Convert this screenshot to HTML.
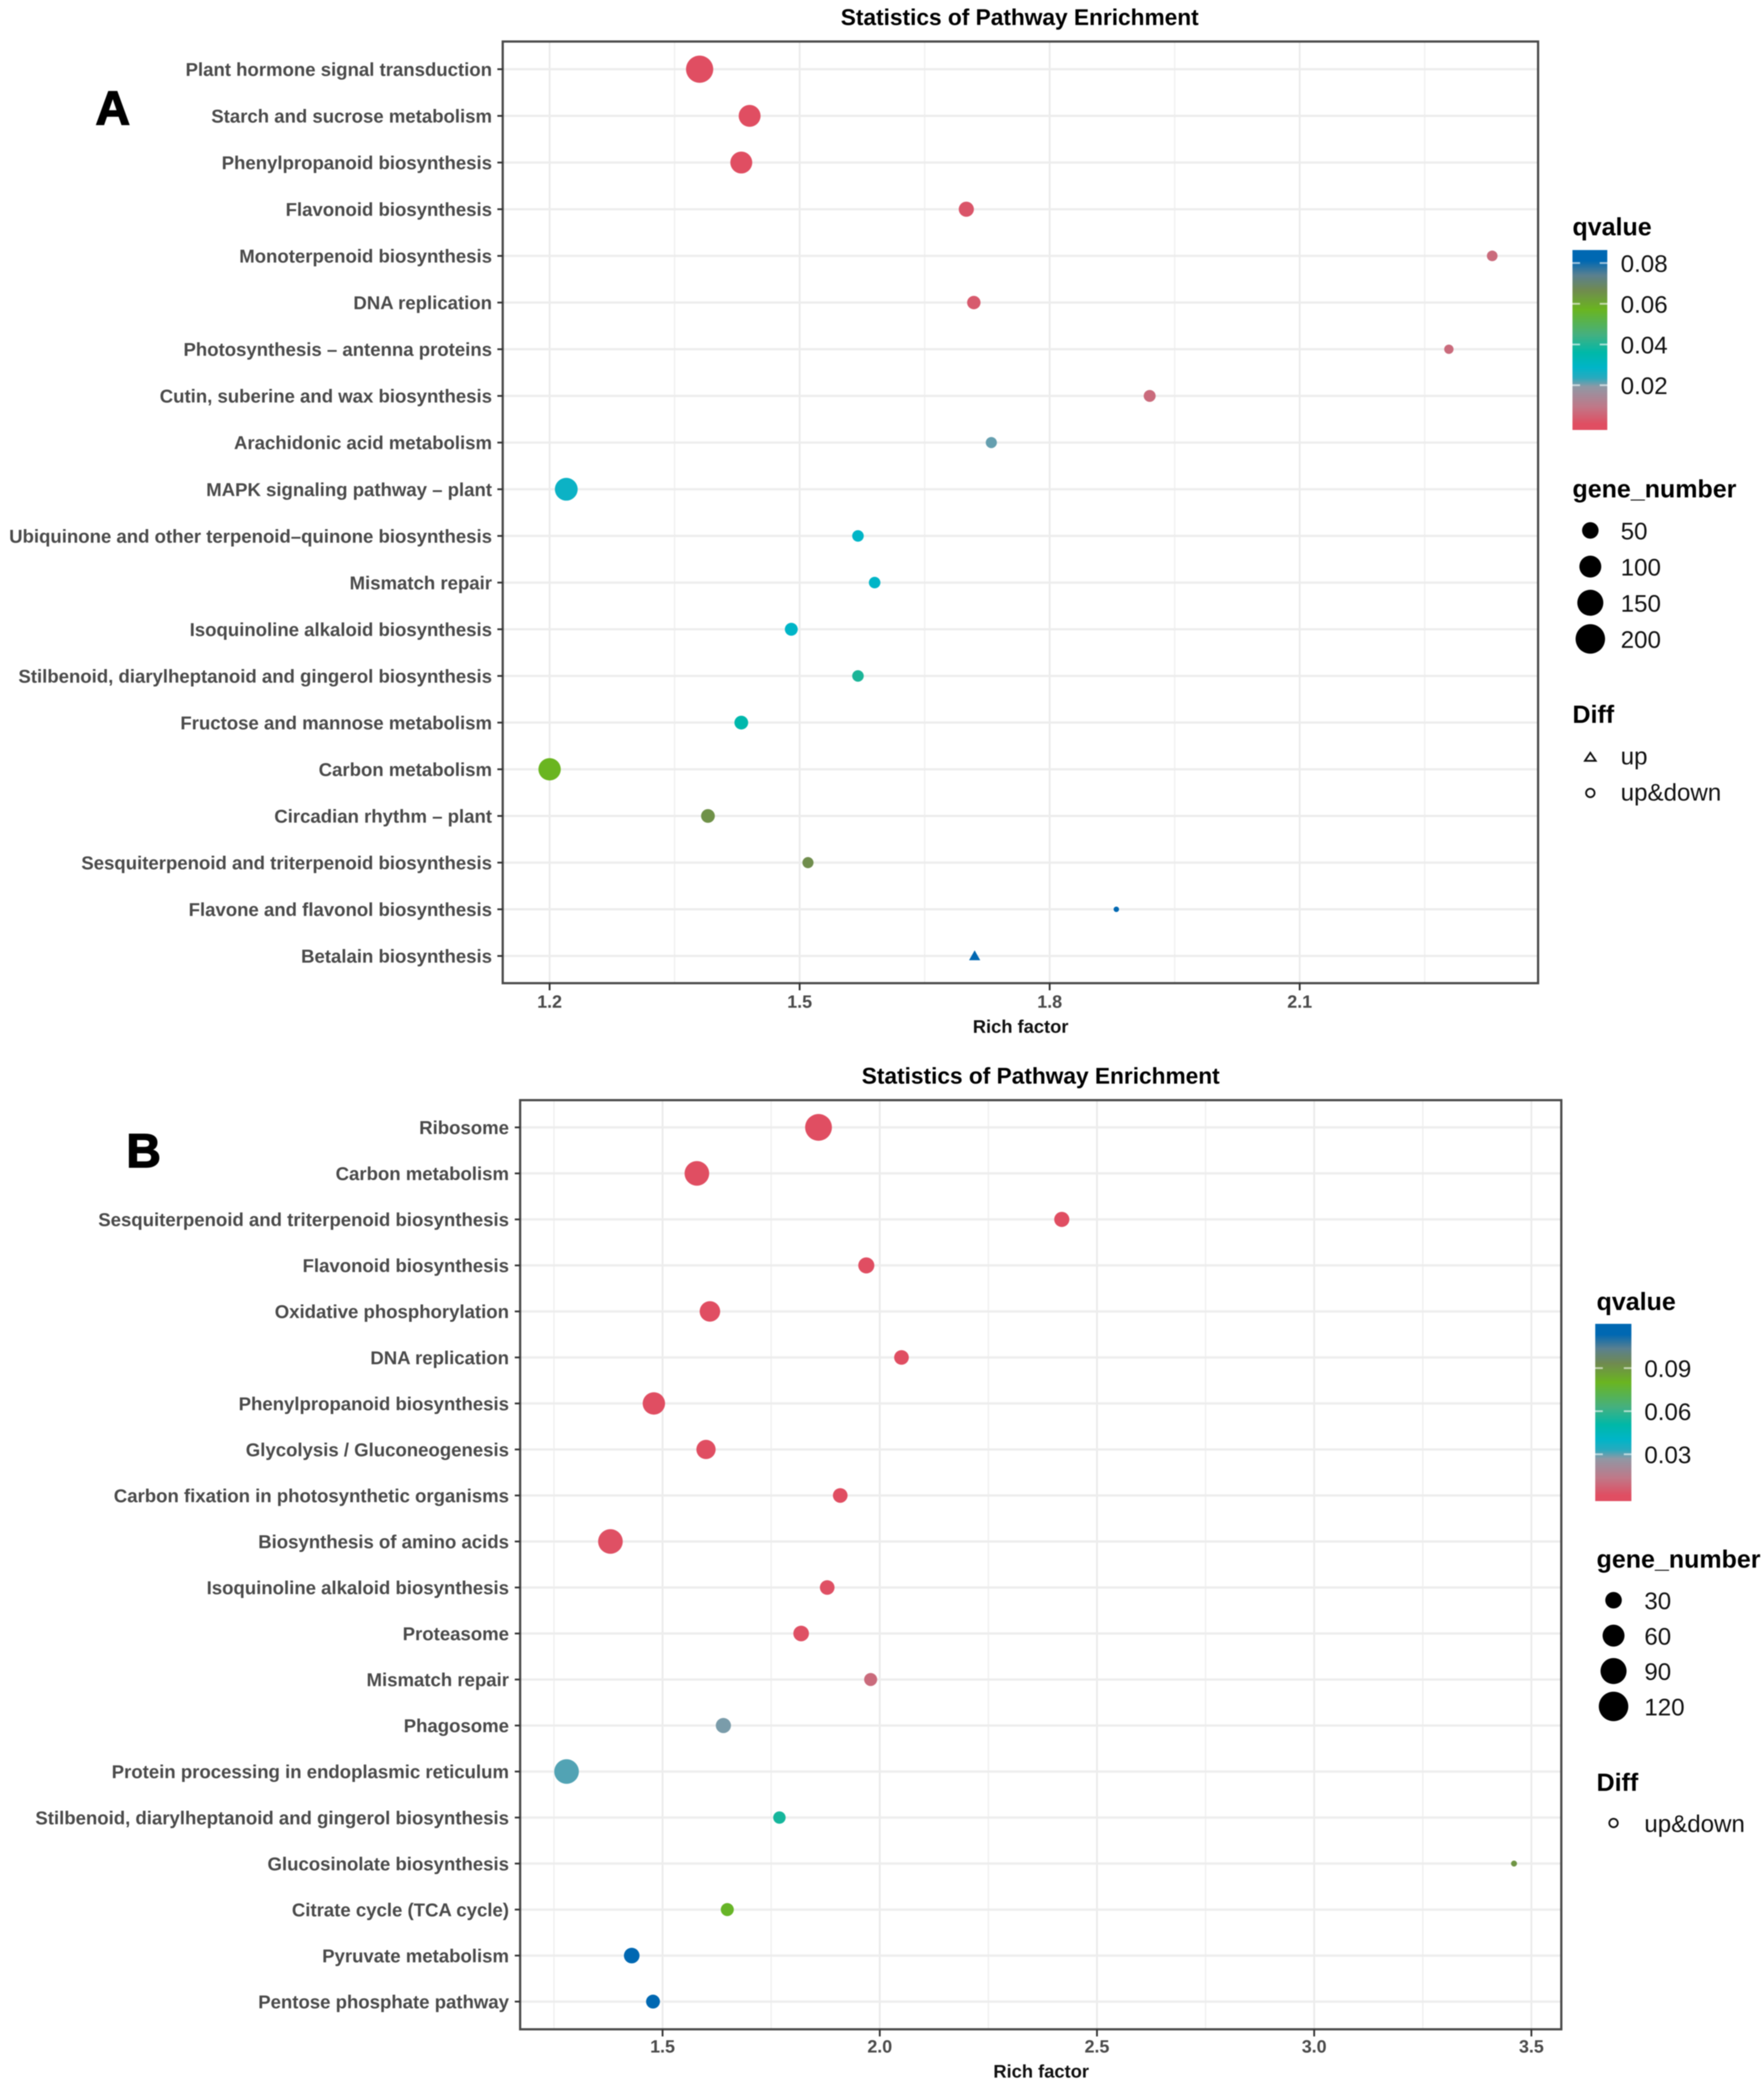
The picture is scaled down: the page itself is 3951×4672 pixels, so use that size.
<!DOCTYPE html>
<html lang="en">
<head>
<meta charset="utf-8">
<title>Statistics of Pathway Enrichment</title>
<style>
html,body{margin:0;padding:0;background:#fff;}
svg{display:block;filter:blur(1px);}
text{font-family:"Liberation Sans",Arial,sans-serif;}
</style>
</head>
<body>
<svg id="figure" xmlns="http://www.w3.org/2000/svg" width="3951" height="4672" viewBox="0 0 3951 4672">
<rect x="0" y="0" width="3951" height="4672" fill="#ffffff"/>
<defs id="defs"></defs>
</svg>
<script>
// ---------- Panel A data ----------
const categoriesA = ["Plant hormone signal transduction","Starch and sucrose metabolism","Phenylpropanoid biosynthesis","Flavonoid biosynthesis","Monoterpenoid biosynthesis","DNA replication","Photosynthesis \u2013 antenna proteins","Cutin, suberine and wax biosynthesis","Arachidonic acid metabolism","MAPK signaling pathway \u2013 plant","Ubiquinone and other terpenoid\u2013quinone biosynthesis","Mismatch repair","Isoquinoline alkaloid biosynthesis","Stilbenoid, diarylheptanoid and gingerol biosynthesis","Fructose and mannose metabolism","Carbon metabolism","Circadian rhythm \u2013 plant","Sesquiterpenoid and triterpenoid biosynthesis","Flavone and flavonol biosynthesis","Betalain biosynthesis"];
const richFactorA = [1.380,1.440,1.430,1.700,2.331,1.709,2.279,1.920,1.730,1.220,1.570,1.590,1.490,1.570,1.430,1.200,1.390,1.510,1.880,1.710];
const geneNumberA = [167,100,100,40,15,29,10,21,17,110,19,19,26,19,31,105,31,17,1,13];
const qvalueA = [0.0005,0.0005,0.0005,0.0024,0.0068,0.0033,0.0068,0.0068,0.021,0.0272,0.029,0.029,0.029,0.0395,0.035,0.0572,0.0652,0.066,0.082,0.0838];
const diffA = ["both","both","both","both","both","both","both","both","both","both","both","both","both","both","both","both","both","both","both","up"];
const xMajorTicksA = [1.2,1.5,1.8,2.1];
const xMinorTicksA = [1.35,1.65,1.95,2.25];
const qTicksA = [0.02,0.04,0.06,0.08];
const sizeLegendA = [50,100,150,200];

// ---------- Panel B data ----------
const categoriesB = ["Ribosome","Carbon metabolism","Sesquiterpenoid and triterpenoid biosynthesis","Flavonoid biosynthesis","Oxidative phosphorylation","DNA replication","Phenylpropanoid biosynthesis","Glycolysis / Gluconeogenesis","Carbon fixation in photosynthetic organisms","Biosynthesis of amino acids","Isoquinoline alkaloid biosynthesis","Proteasome","Mismatch repair","Phagosome","Protein processing in endoplasmic reticulum","Stilbenoid, diarylheptanoid and gingerol biosynthesis","Glucosinolate biosynthesis","Citrate cycle (TCA cycle)","Pyruvate metabolism","Pentose phosphate pathway"];
const richFactorB = [1.859,1.579,2.419,1.969,1.609,2.050,1.480,1.600,1.909,1.380,1.879,1.819,1.979,1.640,1.279,1.769,3.460,1.649,1.429,1.478];
const geneNumberB = [96,79,24,28,51,22,63,44,22,79,22,26,16,24,79,14,1,16,26,19];
const qvalueB = [0.001,0.001,0.001,0.001,0.001,0.001,0.001,0.001,0.001,0.002,0.002,0.002,0.0097,0.0283,0.0307,0.0542,0.09,0.0788,0.1171,0.1171];
const diffB = categoriesB.map(function(){return "both";});
const xMajorTicksB = [1.5,2.0,2.5,3.0,3.5];
const xMinorTicksB = [1.25,1.75,2.25,2.75,3.25];
const qTicksB = [0.03,0.06,0.09];
const sizeLegendB = [30,60,90,120];

// ---------- Shared colour ramp ----------
const rampPositions = [0,0.033,0.13,0.24,0.29,0.347,0.43,0.53,0.67,0.777,0.86,0.94,1];
const rampColors = [[224,78,98],[224,78,98],[192,120,136],[143,152,165],[40,170,190],[0,181,200],[0,184,168],[69,176,128],[106,181,32],[112,138,80],[90,128,144],[0,104,178],[0,104,178]];

const svgNS = "http://www.w3.org/2000/svg";
const root = document.getElementById("figure");
function make(tag, attrs, parent, txt){
  const e = document.createElementNS(svgNS, tag);
  for (const k in attrs) e.setAttribute(k, attrs[k]);
  if (txt !== undefined) e.textContent = txt;
  (parent || root).appendChild(e);
  return e;
}
function rampColor(t){
  t = Math.max(0, Math.min(1, t));
  let i = 0;
  while (i < rampPositions.length - 2 && t > rampPositions[i + 1]) i++;
  const f = (t - rampPositions[i]) / (rampPositions[i + 1] - rampPositions[i]);
  const a = rampColors[i], b = rampColors[i + 1];
  return "rgb(" + [0,1,2].map(function(c){return Math.round(a[c] + (b[c] - a[c]) * f);}).join(",") + ")";
}

function drawPanel(p){
  const xScale = function(v){ return p.x0 + (v - p.v0) * p.pxPerUnit; };
  const yScale = function(i){ return p.y0 + i * p.rowStep; };
  const sizeScale = function(n){ return p.sizeC + p.sizeK * Math.sqrt(n); };
  const qNorm = function(q){ return (q - p.qMin) / (p.qMax - p.qMin); };
  const qColor = function(q){ return rampColor(qNorm(q)); };
  const qY = function(q){ return p.barBottom - qNorm(q) * (p.barBottom - p.barTop); };

  const panel = make("g", {});
  
  

  const letter = make("text", {x:p.letterX, y:p.letterY, "font-size":107, "font-weight":"bold", fill:"#000", stroke:"#000", "stroke-width":3}, panel, p.id);
  
  

  const title = make("text", {x:p.titleX, y:p.titleY, "font-size":50.8, "font-weight":"bold", fill:"#000", "text-anchor":"middle"}, panel, "Statistics of Pathway Enrichment");
  
  

  const grid = make("g", {}, panel);
  
  
  p.minor.forEach(function(v){
    make("line", {x1:xScale(v), x2:xScale(v), y1:p.top, y2:p.bottom, stroke:"#f0f0f0", "stroke-width":3}, grid);
  });
  p.major.forEach(function(v){
    make("line", {x1:xScale(v), x2:xScale(v), y1:p.top, y2:p.bottom, stroke:"#ebebeb", "stroke-width":4}, grid);
  });
  p.categories.forEach(function(c, i){
    make("line", {x1:p.left, x2:p.right, y1:yScale(i), y2:yScale(i), stroke:"#ededed", "stroke-width":5}, grid);
  });

  const border = make("rect", {x:p.left, y:p.top, width:p.right - p.left, height:p.bottom - p.top, fill:"none", stroke:"#4a4a4a", "stroke-width":5}, panel);
  
  

  const yAxis = make("g", {}, panel);
  
  
  p.categories.forEach(function(c, i){
    make("line", {x1:p.left - 12, x2:p.left, y1:yScale(i), y2:yScale(i), stroke:"#333", "stroke-width":4}, yAxis);
    const label = make("text", {x:p.labelEnd, y:yScale(i) + 15, "font-size":41.6, "font-weight":"bold", fill:"#4a4a4a", "text-anchor":"end"}, yAxis, c);
    
    
  });

  const xAxis = make("g", {}, panel);
  
  
  p.major.forEach(function(v){
    make("line", {x1:xScale(v), x2:xScale(v), y1:p.bottom, y2:p.bottom + 16, stroke:"#333", "stroke-width":4}, xAxis);
    const label = make("text", {x:xScale(v), y:p.tickBase, "font-size":40, "font-weight":"bold", fill:"#4a4a4a", "text-anchor":"middle"}, xAxis, v.toFixed(1));
    
    
  });
  const xTitle = make("text", {x:p.xTitleX, y:p.xTitleY, "font-size":41, "font-weight":"bold", fill:"#111", "text-anchor":"middle"}, xAxis, "Rich factor");
  
  

  const points = make("g", {}, panel);
  
  
  p.categories.forEach(function(c, i){
    const cx = xScale(p.rich[i]);
    const cy = yScale(i);
    const d = sizeScale(p.genes[i]);
    let mark;
    if (p.diff[i] === "up") {
      mark = make("polygon", {points:[cx + "," + (cy - d * 0.55), (cx - d * 0.55) + "," + (cy + d * 0.42), (cx + d * 0.55) + "," + (cy + d * 0.42)].join(" "), fill:qColor(p.q[i])}, points);
    } else {
      mark = make("circle", {cx:cx, cy:cy, r:d / 2, fill:qColor(p.q[i])}, points);
    }
    
    
  });

  // ---- legends ----
  const legend = make("g", {}, panel);
  
  
  const ttl = function(t, x, y){
    const e = make("text", {x:x, y:y, "font-size":56, "font-weight":"bold", fill:"#000"}, legend, t);
    
    
  };
  const lab = function(t, x, y){
    const e = make("text", {x:x, y:y, "font-size":54, fill:"#111"}, legend, t);
    
    
  };
  ttl("qvalue", p.legendTitleX, p.qTitleY);
  const grad = make("linearGradient", {id:"ramp" + p.id, x1:0, y1:1, x2:0, y2:0}, document.getElementById("defs"));
  rampPositions.forEach(function(pos, i){
    make("stop", {offset:pos, "stop-color":"rgb(" + rampColors[i].join(",") + ")"}, grad);
  });
  const bar = make("rect", {x:p.barX, y:p.barTop, width:p.barW, height:p.barBottom - p.barTop, fill:"url(#ramp" + p.id + ")"}, legend);
  
  
  p.qTicks.forEach(function(q){
    make("line", {x1:p.barX, x2:p.barX + 17, y1:qY(q), y2:qY(q), stroke:"#fff", "stroke-width":4, opacity:0.6}, legend);
    make("line", {x1:p.barX + p.barW - 17, x2:p.barX + p.barW, y1:qY(q), y2:qY(q), stroke:"#fff", "stroke-width":4, opacity:0.6}, legend);
    lab(q.toFixed(2), p.legendLabelX, qY(q) + 20);
  });
  ttl("gene_number", p.legendTitleX, p.geneTitleY);
  p.sizeLegend.forEach(function(n, i){
    const cy = p.sizeY0 + i * p.sizeStep;
    const e = make("circle", {cx:p.legendKeyX, cy:cy, r:sizeScale(n) / 2, fill:"#000"}, legend);
    
    
    lab(String(n), p.legendLabelX, cy + 20);
  });
  ttl("Diff", p.legendTitleX, p.diffTitleY);
  if (p.upY) {
    const tri = make("polygon", {points:[p.legendKeyX + ",1686", (p.legendKeyX - 12) + ",1704", (p.legendKeyX + 12) + ",1704"].join(" "), fill:"none", stroke:"#111", "stroke-width":4}, legend);
    
    
    lab("up", p.legendLabelX, p.upY + 17);
  }
  const ring = make("circle", {cx:p.legendKeyX, cy:p.bothY, r:9.5, fill:"none", stroke:"#111", "stroke-width":4}, legend);
  
  
  lab("up&down", p.legendLabelX, p.bothY + p.bothLabelDy);
}

drawPanel({
  id:"A", categories:categoriesA, rich:richFactorA, genes:geneNumberA, q:qvalueA, diff:diffA,
  major:xMajorTicksA, minor:xMinorTicksA, qTicks:qTicksA, sizeLegend:sizeLegendA,
  left:1126, right:3445, top:93, bottom:2202, x0:1231, v0:1.2, pxPerUnit:1866.7,
  y0:155, rowStep:104.53, labelEnd:1102, tickBase:2257, xTitleX:2286, xTitleY:2313,
  titleX:2284, titleY:56, letterX:214, letterY:279,
  sizeC:8, sizeK:4.1, qMin:-0.002, qMax:0.0864,
  legendTitleX:3522, legendLabelX:3630, legendKeyX:3562,
  qTitleY:527, barX:3522, barW:78, barTop:560, barBottom:963,
  geneTitleY:1114, sizeY0:1188, sizeStep:81, diffTitleY:1619, upY:1695, bothY:1776, bothLabelDy:17
});
drawPanel({
  id:"B", categories:categoriesB, rich:richFactorB, genes:geneNumberB, q:qvalueB, diff:diffB,
  major:xMajorTicksB, minor:xMinorTicksB, qTicks:qTicksB, sizeLegend:sizeLegendB,
  left:1165, right:3497, top:2464, bottom:4545, x0:1484, v0:1.5, pxPerUnit:973,
  y0:2525, rowStep:103.05, labelEnd:1140, tickBase:4597, xTitleX:2332, xTitleY:4653,
  titleX:2331, titleY:2427, letterX:283, letterY:2614,
  sizeC:8, sizeK:5.3, qMin:-0.0026, qMax:0.1208,
  legendTitleX:3576, legendLabelX:3683, legendKeyX:3614,
  qTitleY:2934, barX:3573, barW:81, barTop:2965, barBottom:3362,
  geneTitleY:3511, sizeY0:3584, sizeStep:79.3, diffTitleY:4011, upY:0, bothY:4083, bothLabelDy:20
});
</script>
</body>
</html>
